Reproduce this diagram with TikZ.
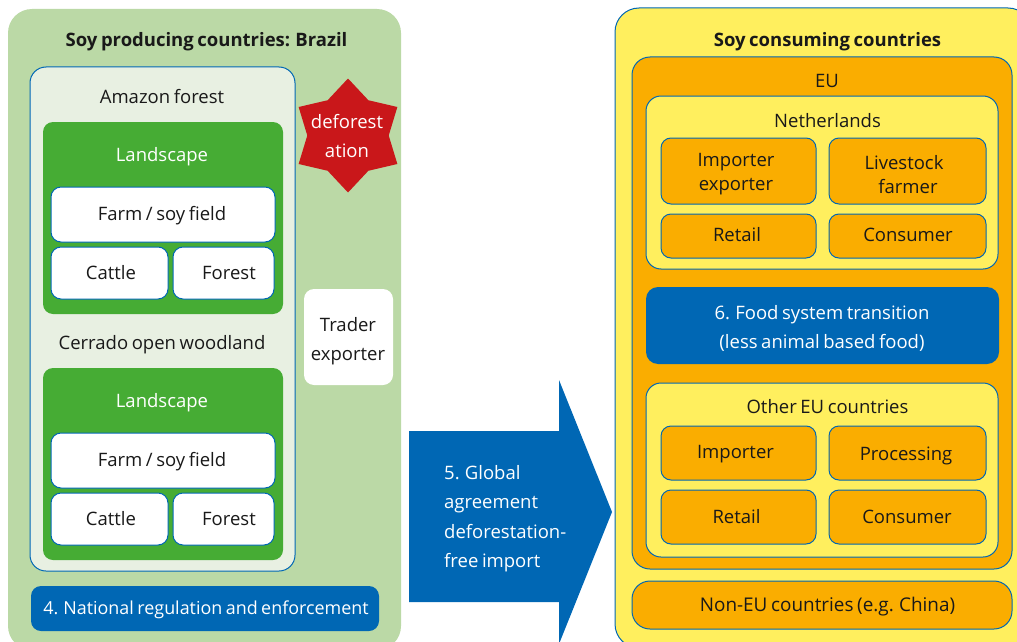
\documentclass[tikz,border=0pt]{standalone}
\usepackage{fontspec}
\setmainfont[WordSpace=0.75]{Open Sans}
\usetikzlibrary{shapes.geometric}

\definecolor{panelgreen}{HTML}{BBD9A6}
\definecolor{palegreen}{HTML}{E8F0E2}
\definecolor{landgreen}{HTML}{46AC34}
\definecolor{roblue}{HTML}{0067B4}
\definecolor{soyyellow}{HTML}{FFEF5E}
\definecolor{soyorange}{HTML}{FAAD00}
\definecolor{alarmred}{HTML}{C9171A}

\tikzset{
    lbl/.style={font=\fontsize{18.5}{24}\selectfont,inner sep=0pt,align=center,text=black!90,yshift=-1pt},
    wide/.style={font=\fontsize{18.5}{29}\selectfont},
    wlbl/.style={lbl,text=white},
    title/.style={lbl,font=\fontsize{18.5}{24}\selectfont\bfseries},
    edge/.style={draw=roblue,line width=1pt},
    whitebox/.style={edge,fill=white,rounded corners=10pt},
    orangebox/.style={edge,fill=soyorange,rounded corners=10pt},
    yellowbox/.style={edge,fill=soyyellow,rounded corners=15pt}
}

\begin{document}
\begin{tikzpicture}[x=1pt,y=-1pt]
    \useasboundingbox (0,0) rectangle (1017,642);
    \clip (0,0) rectangle (1017,642);

    % producing side
    \fill[panelgreen,rounded corners=24pt] (8,9) rectangle (401,650);
    \node[title] (brazil) at (206.5,41) {Soy producing countries: Brazil};
    \draw[edge,fill=palegreen,rounded corners=16pt] (30,67) rectangle (295,571);
    \node[lbl] (amazon) at (162,96) {Amazon forest};
    \node[lbl] (cerrado) at (162,344) {Cerrado open woodland};

    \foreach \y/\n in {0/a,246/b} {
        \fill[landgreen,rounded corners=10pt] (43,122+\y) rectangle (283,314+\y);
        \node[wlbl] (land\n) at (162,156+\y) {Landscape};
        \draw[whitebox] (51,187+\y) rectangle (275,242+\y);
        \node[lbl] (farm\n) at (162,214.5+\y) {Farm / soy field};
        \draw[whitebox] (51,247+\y) rectangle (168,299+\y);
        \node[lbl] (cattle\n) at (111,272+\y) {Cattle};
        \draw[whitebox] (173,247+\y) rectangle (274,299+\y);
        \node[lbl] (forest\n) at (229,272+\y) {Forest};
    }

    \node[star,star points=6,star point ratio=1.4,minimum size=114pt,inner sep=0pt,fill=alarmred] (burst) at (348,135.5) {};
    \node[wlbl,wide] (deforest) at (347,135.5) {deforest\\ation};

    \fill[white,rounded corners=10pt] (304,289) rectangle (393,385);
    \node[lbl,wide] (trader) at (348,340) {Trader\\exporter};

    \fill[roblue,rounded corners=10pt] (31,586) rectangle (379,631);
    \node[wlbl,font=\fontsize{17.9}{24}\selectfont] (national) at (206,609) {4. National regulation and enforcement};

    % import arrow
    \fill[roblue] (409,431) -- (559,431) -- (559,380) -- (612,512) -- (559,644) -- (559,602) -- (409,602) -- cycle;
    \node[wlbl,font=\fontsize{18.5}{29.5}\selectfont,align=left,anchor=west] (global) at (444,517.5) {5. Global\\agreement\\deforestation-\\free import};

    % consuming side
    \draw[edge,fill=soyyellow,rounded corners=24pt] (615,8) rectangle (1032,648);
    \node[title] (consuming) at (827.5,41) {Soy consuming countries};
    \draw[edge,fill=soyorange,rounded corners=18pt] (632,57) rectangle (1012,569);
    \node[lbl] (eu) at (827,80) {EU};

    \draw[yellowbox] (646,96) rectangle (998,269);
    \node[lbl] (netherlands) at (827.5,120) {Netherlands};
    \draw[orangebox] (661,138) rectangle (816,204);
    \node[lbl] (importerNL) at (736,173.5) {Importer\\exporter};
    \draw[orangebox] (829,138) rectangle (986,204);
    \node[lbl] (livestock) at (904,174) {Livestock\\\hspace*{8pt}farmer};
    \draw[orangebox] (661,214) rectangle (816,258);
    \node[lbl] (retailNL) at (737,234) {Retail};
    \draw[orangebox] (829,214) rectangle (986,258);
    \node[lbl] (consumerNL) at (908,234) {Consumer};

    \fill[roblue,rounded corners=12pt] (646,287) rectangle (999,364);
    \node[wlbl,wide] (food) at (822,327.5) {6. Food system transition\\(less animal based food)};

    \draw[yellowbox] (646,383) rectangle (998,557);
    \node[lbl] (other) at (827.5,406) {Other EU countries};
    \draw[orangebox] (661,426) rectangle (816,480);
    \node[lbl] (importerEU) at (735.5,453.5) {Importer};
    \draw[orangebox] (829,426) rectangle (986,480);
    \node[lbl] (processing) at (906,454.5) {Processing};
    \draw[orangebox] (661,490) rectangle (816,544);
    \node[lbl] (retailEU) at (736.5,516) {Retail};
    \draw[orangebox] (829,490) rectangle (986,544);
    \node[lbl] (consumerEU) at (907,516) {Consumer};

    \draw[edge,fill=soyorange,rounded corners=18pt] (632,581) rectangle (1012,629);
    \node[lbl,font=\fontsize{18.9}{24}\selectfont] (noneu) at (827.5,606) {Non-EU countries (e.g. China)};
\end{tikzpicture}
\end{document}
